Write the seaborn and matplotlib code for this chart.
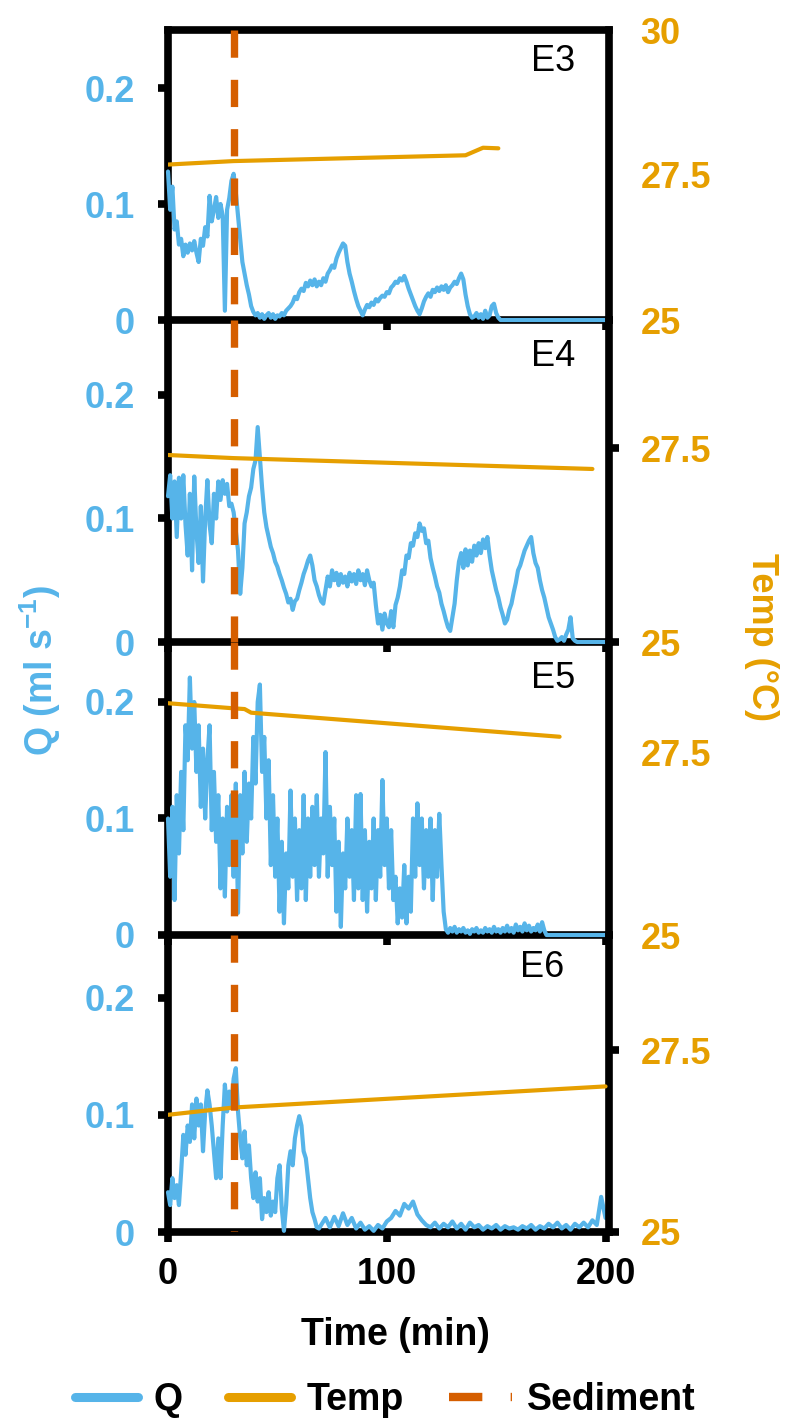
import numpy as np
import matplotlib
matplotlib.use("Agg")
import matplotlib.pyplot as plt
import seaborn as sns
from matplotlib.lines import Line2D

# ---------------- data ----------------
panel_names = ["E3", "E4", "E5", "E6"]

q_ticks = [0, 0.1, 0.2]
q_tick_labels = ["0", "0.1", "0.2"]
temp_ticks = [25, 27.5, 30]
temp_tick_labels = ["25", "27.5", "30"]
time_ticks = [0, 100, 200]
time_tick_labels = ["0", "100", "200"]
sediment_time = 30

# Q (ml s-1), sampled every minute from t = 0
e3_q = [0.128, 0.095, 0.115, 0.078, 0.085, 0.065, 0.070, 0.055, 0.065, 0.058,
        0.066, 0.060, 0.068, 0.058, 0.050, 0.070, 0.064, 0.080, 0.072, 0.107,
        0.085, 0.095, 0.106, 0.088, 0.100, 0.090, 0.008, 0.095, 0.105, 0.120,
        0.126, 0.110, 0.090, 0.070, 0.050, 0.040, 0.030, 0.022, 0.012, 0.007,
        0.004, 0.006, 0.002, 0.005, 0.001, 0.004, 0.006, 0.002, 0.005, 0.001,
        0.004, 0.003, 0.006, 0.004, 0.008, 0.010, 0.012, 0.015, 0.020, 0.018,
        0.024, 0.027, 0.025, 0.032, 0.029, 0.034, 0.030, 0.035, 0.029, 0.033,
        0.030, 0.036, 0.033, 0.040, 0.043, 0.047, 0.045, 0.053, 0.058, 0.062,
        0.066, 0.064, 0.050, 0.040, 0.033, 0.025, 0.018, 0.012, 0.008, 0.004,
        0.009, 0.013, 0.011, 0.015, 0.013, 0.018, 0.016, 0.019, 0.021, 0.020,
        0.024, 0.023, 0.028, 0.030, 0.033, 0.032, 0.036, 0.034, 0.038, 0.033,
        0.027, 0.022, 0.017, 0.012, 0.008, 0.005, 0.010, 0.016, 0.020, 0.023,
        0.020, 0.026, 0.024, 0.028, 0.025, 0.029, 0.026, 0.030, 0.024, 0.028,
        0.030, 0.033, 0.031, 0.036, 0.040, 0.035, 0.022, 0.012, 0.005, 0.002,
        0.003, 0.006, 0.002, 0.005, 0.001, 0.008, 0.002, 0.004, 0.012, 0.014,
        0.006, 0.002, 0.000]

e4_q = [0.118, 0.135, 0.100, 0.130, 0.085, 0.133, 0.100, 0.135, 0.095, 0.070,
        0.120, 0.058, 0.134, 0.090, 0.064, 0.110, 0.049, 0.100, 0.131, 0.095,
        0.080, 0.120, 0.100, 0.130, 0.115, 0.131, 0.120, 0.128, 0.110, 0.112,
        0.105, 0.090, 0.074, 0.039, 0.060, 0.096, 0.105, 0.118, 0.125, 0.140,
        0.147, 0.174, 0.150, 0.125, 0.105, 0.093, 0.085, 0.077, 0.072, 0.065,
        0.061, 0.055, 0.050, 0.044, 0.039, 0.032, 0.035, 0.026, 0.033, 0.035,
        0.042, 0.048, 0.055, 0.060, 0.066, 0.070, 0.062, 0.050, 0.045, 0.038,
        0.033, 0.031, 0.042, 0.053, 0.045, 0.058, 0.050, 0.056, 0.046, 0.055,
        0.048, 0.053, 0.045, 0.056, 0.049, 0.055, 0.047, 0.058, 0.050, 0.055,
        0.046, 0.058, 0.050, 0.045, 0.048, 0.030, 0.015, 0.022, 0.010, 0.023,
        0.015, 0.012, 0.025, 0.012, 0.030, 0.036, 0.045, 0.058, 0.055, 0.070,
        0.068, 0.080, 0.078, 0.088, 0.085, 0.096, 0.090, 0.092, 0.080, 0.082,
        0.068, 0.060, 0.053, 0.045, 0.040, 0.031, 0.025, 0.018, 0.012, 0.009,
        0.020, 0.031, 0.050, 0.065, 0.072, 0.060, 0.075, 0.062, 0.074, 0.065,
        0.078, 0.070, 0.080, 0.072, 0.083, 0.076, 0.085, 0.070, 0.058, 0.050,
        0.042, 0.036, 0.028, 0.022, 0.015, 0.018, 0.026, 0.031, 0.040, 0.048,
        0.058, 0.062, 0.068, 0.074, 0.078, 0.082, 0.085, 0.072, 0.064, 0.060,
        0.050, 0.042, 0.036, 0.028, 0.020, 0.015, 0.010, 0.004, 0.001, 0.002,
        0.004, 0.001, 0.006, 0.010, 0.020, 0.003, 0.001, 0.000]

e5_q = [0.100, 0.050, 0.110, 0.030, 0.120, 0.070, 0.140, 0.090, 0.180, 0.150,
        0.221, 0.160, 0.200, 0.140, 0.180, 0.110, 0.160, 0.100, 0.150, 0.180,
        0.090, 0.140, 0.080, 0.120, 0.040, 0.100, 0.033, 0.110, 0.060, 0.120,
        0.050, 0.130, 0.019, 0.120, 0.070, 0.140, 0.080, 0.130, 0.100, 0.170,
        0.130, 0.200, 0.215, 0.140, 0.170, 0.100, 0.150, 0.060, 0.120, 0.050,
        0.100, 0.020, 0.080, 0.010, 0.070, 0.040, 0.124, 0.050, 0.100, 0.030,
        0.090, 0.040, 0.120, 0.030, 0.100, 0.050, 0.110, 0.060, 0.120, 0.050,
        0.100, 0.070, 0.157, 0.050, 0.110, 0.060, 0.100, 0.020, 0.080, 0.007,
        0.070, 0.040, 0.100, 0.050, 0.090, 0.030, 0.120, 0.040, 0.121, 0.030,
        0.090, 0.020, 0.080, 0.040, 0.100, 0.030, 0.090, 0.050, 0.133, 0.060,
        0.100, 0.040, 0.090, 0.030, 0.050, 0.010, 0.040, 0.015, 0.060, 0.010,
        0.050, 0.020, 0.100, 0.050, 0.113, 0.060, 0.100, 0.040, 0.090, 0.050,
        0.100, 0.030, 0.090, 0.050, 0.104, 0.060, 0.020, 0.005, 0.002, 0.006,
        0.003, 0.007, 0.002, 0.005, 0.003, 0.006, 0.002, 0.004, 0.001, 0.005,
        0.003, 0.006, 0.002, 0.004, 0.002, 0.006, 0.003, 0.005, 0.002, 0.007,
        0.003, 0.005, 0.002, 0.006, 0.003, 0.008, 0.003, 0.006, 0.002, 0.009,
        0.004, 0.007, 0.003, 0.010, 0.004, 0.008, 0.003, 0.006, 0.004, 0.009,
        0.003, 0.011, 0.004, 0.000]

# E6: every minute for t = 0..69, then every 2 minutes from t = 70
e6_q_early = [0.034, 0.023, 0.046, 0.029, 0.040, 0.023, 0.051, 0.083, 0.066, 0.091,
              0.077, 0.109, 0.080, 0.114, 0.091, 0.109, 0.069, 0.103, 0.121, 0.109,
              0.091, 0.069, 0.046, 0.080, 0.046, 0.091, 0.126, 0.103, 0.120, 0.109,
              0.131, 0.140, 0.103, 0.080, 0.063, 0.086, 0.057, 0.074, 0.046, 0.029,
              0.051, 0.026, 0.046, 0.011, 0.029, 0.017, 0.034, 0.014, 0.026, 0.017,
              0.046, 0.057, 0.020, 0.001, 0.023, 0.057, 0.069, 0.057, 0.080, 0.091,
              0.099, 0.091, 0.069, 0.063, 0.046, 0.029, 0.017, 0.011, 0.004, 0.003]
e6_q_late = [0.006, 0.012, 0.004, 0.013, 0.005, 0.016, 0.006, 0.012, 0.003, 0.008,
             0.002, 0.005, 0.001, 0.006, 0.003, 0.009, 0.012, 0.018, 0.014, 0.024,
             0.020, 0.026, 0.015, 0.010, 0.006, 0.004, 0.008, 0.003, 0.007, 0.004,
             0.009, 0.003, 0.007, 0.002, 0.008, 0.004, 0.006, 0.002, 0.005, 0.003,
             0.006, 0.002, 0.005, 0.003, 0.004, 0.002, 0.005, 0.003, 0.006, 0.002,
             0.005, 0.003, 0.007, 0.004, 0.008, 0.003, 0.006, 0.002, 0.007, 0.004,
             0.008, 0.004, 0.010, 0.006, 0.030, 0.012]

# Temperature (deg C) breakpoints
e3_temp_t = [0, 30, 136, 144, 151]
e3_temp = [27.68, 27.74, 27.84, 27.97, 27.96]
e4_temp_t = [0, 30, 194]
e4_temp = [27.41, 27.37, 27.23]
e5_temp_t = [0, 30, 35, 38, 179]
e5_temp = [28.18, 28.11, 28.10, 28.05, 27.72]
e6_temp_t = [0, 30, 200]
e6_temp = [26.61, 26.71, 27.00]

# ---------------- build series ----------------
def minute_axis(vals, start=0, step=1):
    return start + step * np.arange(len(vals))

X_MAX = 201.4
q_series = []
for vals in [e3_q, e4_q, e5_q]:
    t = np.append(minute_axis(vals), X_MAX)   # Q stays at zero afterwards
    v = np.append(np.array(vals), 0.0)
    q_series.append((t, v))
t6 = np.concatenate([minute_axis(e6_q_early), minute_axis(e6_q_late, 70, 2)])
v6 = np.concatenate([e6_q_early, e6_q_late])
q_series.append((t6, v6))

temp_series = [(e3_temp_t, e3_temp), (e4_temp_t, e4_temp),
               (e5_temp_t, e5_temp), (e6_temp_t, e6_temp)]

# ---------------- style ----------------
Q_COLOR = "#56B4E9"
T_COLOR = "#E69F00"
S_COLOR = "#D55E00"

sns.set_theme(style="ticks")
plt.rcParams["font.family"] = ["Liberation Sans", "DejaVu Sans"]
plt.rcParams["font.weight"] = "bold"
plt.rcParams["text.color"] = "black"
plt.rcParams["axes.labelcolor"] = "black"
plt.rcParams["mathtext.fontset"] = "custom"
plt.rcParams["mathtext.rm"] = "Liberation Sans"
plt.rcParams["mathtext.bf"] = "Liberation Sans:bold"
plt.rcParams["mathtext.default"] = "bf"

W, H = 788, 1422
fig = plt.figure(figsize=(W / 100, H / 100), dpi=100)
fig.patch.set_facecolor("white")

x_left, x_right = 168, 608.6
panel_px = [(30, 320), (320, 642), (642, 935), (935, 1232)]
q_top = [0.25, 0.2607, 0.2515, 0.2538]
t_top = [30, 29.15, 29.02, 29.08]
right_tick_visible = [False, True, False, True]
label_pos = [(0.924, 0.890), (0.924, 0.888), (0.924, 0.877), (0.899, 0.892)]

SPINE_W = 5.5
TICK_FS = 26

for i, name in enumerate(panel_names):
    top_px, bot_px = panel_px[i]
    ax = fig.add_axes([x_left / W, 1 - bot_px / H,
                       (x_right - x_left) / W, (bot_px - top_px) / H])
    ax.patch.set_visible(False)
    ax2 = ax.twinx()

    tq, vq = q_series[i]
    sns.lineplot(x=tq, y=vq, ax=ax, color=Q_COLOR, lw=3.0,
                 estimator=None, sort=False, zorder=3, clip_on=False)
    tt, vt = temp_series[i]
    sns.lineplot(x=np.array(tt), y=np.array(vt), ax=ax2, color=T_COLOR, lw=3.0,
                 estimator=None, sort=False, zorder=3)
    ax2.axvline(sediment_time, ymin=1, ymax=0, color=S_COLOR, lw=5.3,
                ls=(0, (3.7, 3.0)), zorder=4)

    ax.set_xlabel("")
    ax.set_ylabel("")
    ax2.set_ylabel("")

    ax.set_xticks(time_ticks)
    if i == len(panel_names) - 1:
        ax.set_xticklabels(time_tick_labels)
    else:
        ax.set_xticklabels([])
    ax.set_yticks(q_ticks)
    ax.set_yticklabels(q_tick_labels)
    ax2.set_yticks(temp_ticks)
    ax2.set_yticklabels(temp_tick_labels)

    ax.set_xlim(0, X_MAX)
    ax.set_ylim(0, q_top[i])
    ax2.set_ylim(25, t_top[i])

    for s in ["top", "left", "bottom"]:
        ax.spines[s].set_linewidth(SPINE_W)
        ax.spines[s].set_color("black")
    # the panel above already draws the shared boundary line
    if i > 0:
        ax.spines["top"].set_visible(False)
    ax.spines["right"].set_visible(False)
    for s in ["top", "left", "bottom"]:
        ax2.spines[s].set_visible(False)
    ax2.spines["right"].set_linewidth(SPINE_W)
    ax2.spines["right"].set_color("black")

    ax.tick_params(axis="y", direction="out", length=7, width=SPINE_W,
                   color="black", labelcolor=Q_COLOR, labelsize=TICK_FS, pad=17)
    ax.tick_params(axis="x", direction="out", length=7, width=SPINE_W,
                   color="black", labelcolor="black", labelsize=TICK_FS, pad=11)
    ax2.tick_params(axis="y", direction="out", length=7, width=SPINE_W,
                    color="black" if right_tick_visible[i] else (0, 0, 0, 0),
                    labelcolor=T_COLOR, labelsize=TICK_FS, pad=16)

    lx, ly = label_pos[i]
    ax2.text(lx, ly, name, transform=ax.transAxes, ha="right", va="center",
             fontsize=26, fontweight="normal", color="black", zorder=5)

# axis titles
fig.text(40 / W, 1 - 670 / H, r"Q (ml s$^{-1}$)", rotation=90, ha="center",
         va="center", fontsize=27, fontweight="bold", color=Q_COLOR)
fig.text(762 / W, 1 - 637 / H, "Temp (°C)", rotation=270, ha="center",
         va="center", fontsize=26, fontweight="bold", color=T_COLOR)
fig.text(395 / W, 1 - 1345 / H, "Time (min)", ha="center", va="baseline",
         fontsize=27, fontweight="bold", color="black")

# legend
handles = [Line2D([0], [0], color=Q_COLOR, lw=6.5),
           Line2D([0], [0], color=T_COLOR, lw=6.5),
           Line2D([0], [0], color=S_COLOR, lw=6, ls=(0, (4, 3.4)))]
fig.legend(handles, ["Q", "Temp", "Sediment"], loc="center",
           bbox_to_anchor=(0.489, 1 - 1400 / H), ncol=3, frameon=False,
           prop={"weight": "bold", "size": 27}, handlelength=1.7,
           handletextpad=0.4, columnspacing=1.2, labelcolor="black")

fig.savefig("out.png", dpi=100, facecolor="white")
